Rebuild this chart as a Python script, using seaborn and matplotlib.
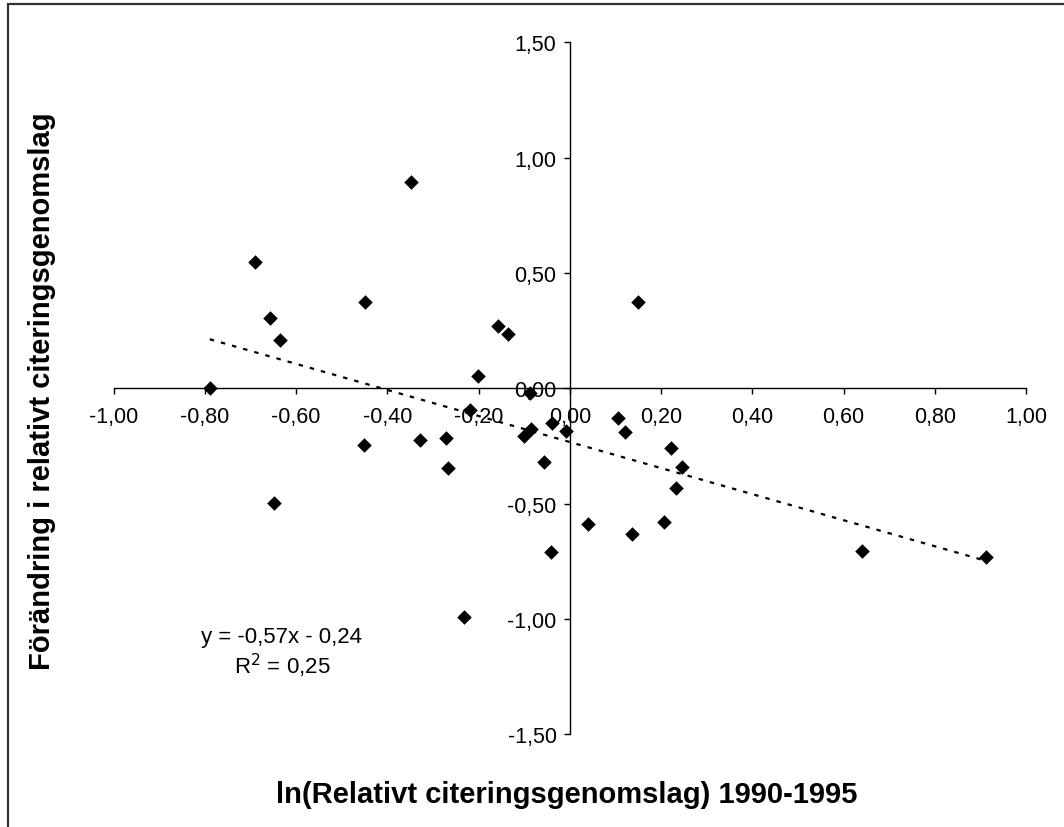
import numpy as np
import pandas as pd
import matplotlib
matplotlib.use("Agg")
import matplotlib.pyplot as plt
from matplotlib.patches import Rectangle
import seaborn as sns

# ---- data ----
x_vals = [-0.347, -0.689, -0.448, -0.657, -0.635, -0.789, -0.201, -0.158, -0.136,
          0.150, -0.087, -0.219, -0.328, -0.271, -0.267, -0.100, -0.086, -0.039,
          -0.008, -0.057, -0.042, 0.041, 0.137, 0.207, 0.106, 0.120, 0.221,
          0.247, 0.233, -0.451, -0.648, -0.231, 0.641, 0.913]
y_vals = [0.893, 0.546, 0.373, 0.303, 0.208, 0.000, 0.052, 0.270, 0.234,
          0.373, -0.020, -0.095, -0.225, -0.217, -0.347, -0.208, -0.175, -0.149,
          -0.184, -0.321, -0.711, -0.590, -0.633, -0.581, -0.130, -0.191, -0.260,
          -0.340, -0.434, -0.244, -0.496, -0.991, -0.704, -0.733]

x_ticks = [-1.0, -0.8, -0.6, -0.4, -0.2, 0.0, 0.2, 0.4, 0.6, 0.8, 1.0]
x_tick_labels = ["-1,00", "-0,80", "-0,60", "-0,40", "-0,20", "0,00",
                 "0,20", "0,40", "0,60", "0,80", "1,00"]
y_ticks = [-1.5, -1.0, -0.5, 0.0, 0.5, 1.0, 1.5]
y_tick_labels = ["-1,50", "-1,00", "-0,50", "0,00", "0,50", "1,00", "1,50"]

x_label = "ln(Relativt citeringsgenomslag) 1990-1995"
y_label = "Förändring i relativt citeringsgenomslag"
eq_text = "y = -0,57x - 0,24"
r2_text = "R$^2$ = 0,25"

df = pd.DataFrame({"x": x_vals, "y": y_vals})

sns.set_theme(style="white")
plt.rcParams["font.family"] = ["Liberation Sans", "DejaVu Sans"]

W, H = 1064, 828
fig = plt.figure(figsize=(W / 100, H / 100), dpi=100)
fig.patch.set_facecolor("white")

# axes placement (pixel-derived)
left_px, right_px = 113.5, 1026.0
top_px, bot_px = 43.3, 735.3
ax = fig.add_axes([left_px / W, 1 - bot_px / H,
                   (right_px - left_px) / W, (bot_px - top_px) / H])
ax.set_facecolor("white")

sns.scatterplot(data=df, x="x", y="y", marker="D", s=55, color="black",
                edgecolor="black", linewidth=0, ax=ax, zorder=3)
sns.regplot(data=df, x="x", y="y", scatter=False, ci=None, truncate=True, ax=ax,
            line_kws=dict(color="black", linewidth=1.6, linestyle=(0, (2.0, 3.2))))

ax.set_xlim(-1.0, 1.0)
ax.set_ylim(-1.5, 1.5)

for side in ["top", "right"]:
    ax.spines[side].set_visible(False)
ax.spines["left"].set_position(("data", 0))
ax.spines["bottom"].set_position(("data", 0))
for side in ["left", "bottom"]:
    ax.spines[side].set_color("black")
    ax.spines[side].set_linewidth(1.0)

ax.set_xticks(x_ticks)
ax.set_xticklabels(x_tick_labels)
ax.set_yticks(y_ticks)
ax.set_yticklabels(y_tick_labels)
ax.tick_params(axis="x", direction="out", length=4.5, width=1.0, color="black",
               labelsize=15.5, labelcolor="black", pad=8, bottom=True)
ax.tick_params(axis="y", direction="out", length=4.5, width=1.0, color="black",
               labelsize=15.5, labelcolor="black", pad=5, left=True)
ax.grid(False)

ax.set_xlabel(x_label, fontsize=21, fontweight="bold", color="black")
ax.xaxis.set_label_coords(0.497, -0.0865)
ax.xaxis.label.set_va("center")
ax.set_ylabel(y_label, fontsize=21, fontweight="bold", color="black")
ax.yaxis.set_label_coords(-0.078, 0.4976)
ax.yaxis.label.set_va("center")

ax.text(-0.631, -1.074, eq_text, ha="center", va="center", fontsize=16, color="black")
ax.text(-0.631, -1.200, r2_text, ha="center", va="center", fontsize=16, color="black")

# outer chart-area frame (only left/top edges visible in the reference)
frame = Rectangle((7.5 / W, -0.05), 1.2, 1.05 - 5.0 / H, transform=fig.transFigure,
                  fill=False, edgecolor="#333333", linewidth=1.6, clip_on=False)
fig.add_artist(frame)

fig.savefig("out.png", dpi=100, facecolor="white")
